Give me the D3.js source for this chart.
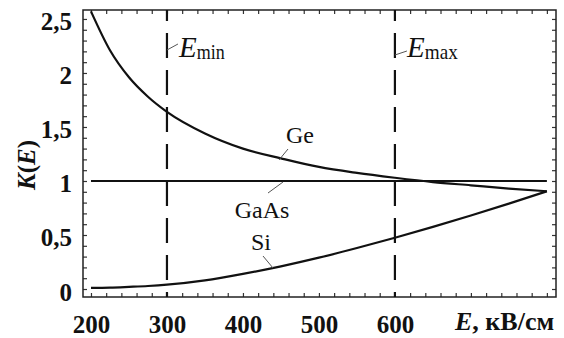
<!DOCTYPE html>
<html>
<head>
<meta charset="utf-8">
<script src="https://cdn.jsdelivr.net/npm/d3@7"></script>
<style>
  body { margin: 0; background: #fff; }
  svg { display: block; }
</style>
</head>
<body>
<svg id="chart" width="564" height="338"></svg>
<script>
// Field strength grid, kV/cm
const fieldE = [200, 225, 250, 275, 300, 350, 400, 450, 500, 550, 600, 650, 700, 750, 800];
// Coefficient K(E) for each material
const kGe   = [2.57, 2.21, 1.96, 1.78, 1.64, 1.44, 1.30, 1.21, 1.13, 1.075, 1.03, 0.99, 0.96, 0.93, 0.905];
const kSi   = [0.01, 0.013, 0.02, 0.028, 0.04, 0.08, 0.14, 0.21, 0.29, 0.38, 0.475, 0.575, 0.68, 0.79, 0.905];
const kGaAs = [1, 1, 1, 1, 1, 1, 1, 1, 1, 1, 1, 1, 1, 1, 1];

const xTickValues = [200, 300, 400, 500, 600];
const yTickValues = [0, 0.5, 1, 1.5, 2, 2.5];
const eMin = 300, eMax = 600;

const SERIF = "'Liberation Serif', 'Times New Roman', serif";

const svg = d3.select("#chart");
const pLeft = 83, pRight = 556, pTop = 10, pBottom = 297;

const x = d3.scaleLinear().domain([189.5, 812]).range([pLeft, pRight]);
const y = d3.scaleLinear().domain([-0.074, 2.583]).range([pBottom, pTop]);

svg.append("rect").attr("width", 564).attr("height", 338).attr("fill", "#fff");

// Clip for the curves
svg.append("clipPath").attr("id", "plot")
  .append("rect").attr("x", pLeft).attr("y", pTop)
  .attr("width", pRight - pLeft).attr("height", pBottom - pTop);

// Minor ticks on all four sides, pointing inward
const xMinor = d3.range(200, 801, 20);
const yMinor = d3.range(0, 2.51, 0.1);
function tickAxis(axis, tx, ty) {
  const g = svg.append("g").attr("transform", `translate(${tx},${ty})`).call(axis);
  g.select(".domain").remove();
  g.selectAll("text").remove();
  g.selectAll("line").attr("stroke", "#333").attr("stroke-width", 1.2);
}
tickAxis(d3.axisBottom(x).tickValues(xMinor).tickSize(-4), 0, pBottom);
tickAxis(d3.axisTop(x).tickValues(xMinor).tickSize(-4), 0, pTop);
tickAxis(d3.axisLeft(y).tickValues(yMinor).tickSize(-4), pLeft, 0);
tickAxis(d3.axisRight(y).tickValues(yMinor).tickSize(-4), pRight, 0);

// Frame
svg.append("rect").attr("x", pLeft).attr("y", pTop)
  .attr("width", pRight - pLeft).attr("height", pBottom - pTop)
  .attr("fill", "none").attr("stroke", "#222").attr("stroke-width", 1.5);

// Tick labels
const fmt = v => String(v).replace(".", ",");
const xAxis = svg.append("g").attr("transform", `translate(0,${pBottom})`)
  .call(d3.axisBottom(x).tickValues(xTickValues).tickSize(0).tickPadding(18).tickFormat(fmt));
xAxis.select(".domain").remove();
xAxis.attr("font-family", SERIF).attr("font-size", 25).attr("font-weight", "bold");
xAxis.selectAll("text").attr("fill", "#111");

const yAxis = svg.append("g").attr("transform", `translate(${pLeft},3)`)
  .call(d3.axisLeft(y).tickValues(yTickValues).tickSize(0).tickPadding(11).tickFormat(fmt));
yAxis.select(".domain").remove();
yAxis.attr("font-family", SERIF).attr("font-size", 25).attr("font-weight", "bold");
yAxis.selectAll("text").attr("fill", "#111");

// Dashed E_min / E_max lines
[eMin, eMax].forEach(e => {
  svg.append("line")
    .attr("x1", x(e)).attr("x2", x(e)).attr("y1", pTop).attr("y2", pBottom)
    .attr("stroke", "#111").attr("stroke-width", 2.2)
    .attr("stroke-dasharray", "25,12").attr("stroke-dashoffset", 14);
});

// Curves
const line = d3.line()
  .x((d, i) => x(fieldE[i]))
  .y(d => y(d))
  .curve(d3.curveMonotoneX);
const curves = svg.append("g").attr("clip-path", "url(#plot)");
[kGaAs, kGe, kSi].forEach(series => {
  curves.append("path").attr("d", line(series))
    .attr("fill", "none").attr("stroke", "#111").attr("stroke-width", 2.2);
});

// Leader lines for labels
const leaders = [
  [x(eMin), 50, x(eMin) + 11, 44],
  [x(eMax), 55, x(eMax) + 12, 51],
  [279, 160, 288, 149],
  [268, 193, 283, 182],
  [273, 268, 263, 256]
];
leaders.forEach(([x1, y1, x2, y2]) => {
  svg.append("line").attr("x1", x1).attr("y1", y1).attr("x2", x2).attr("y2", y2)
    .attr("stroke", "#555").attr("stroke-width", 1);
});

const labels = svg.append("g").attr("font-family", SERIF).attr("fill", "#111");

// E_min / E_max labels
function eLabel(xPos, sub, subLen) {
  const t = labels.append("text").attr("x", xPos).attr("y", 57);
  t.append("tspan").attr("font-size", 29).attr("font-style", "italic").text("E");
  t.append("tspan").attr("font-size", 21).attr("dy", 2)
    .attr("textLength", subLen).attr("lengthAdjust", "spacingAndGlyphs").text(sub);
}
eLabel(179, "min", 28);
eLabel(407, "max", 33);

// Curve labels
const curveLabels = [["Ge", 300, 143], ["GaAs", 262, 218], ["Si", 261, 250]];
curveLabels.forEach(([name, cx, cy]) => {
  labels.append("text").attr("x", cx).attr("y", cy).attr("text-anchor", "middle")
    .attr("font-size", 24).text(name);
});

// Axis titles
const yTitle = labels.append("text").attr("transform", "translate(35,165) rotate(-90)")
  .attr("text-anchor", "middle").attr("font-size", 25).attr("font-weight", "bold");
yTitle.append("tspan").attr("font-style", "italic").text("K");
yTitle.append("tspan").text("(");
yTitle.append("tspan").attr("font-style", "italic").text("E");
yTitle.append("tspan").text(")");

const xTitle = labels.append("text").attr("x", 455).attr("y", 330)
  .attr("font-size", 26).attr("font-weight", "bold");
xTitle.append("tspan").attr("font-style", "italic").text("E");
xTitle.append("tspan").text(", кВ/см");
</script>
</body>
</html>
